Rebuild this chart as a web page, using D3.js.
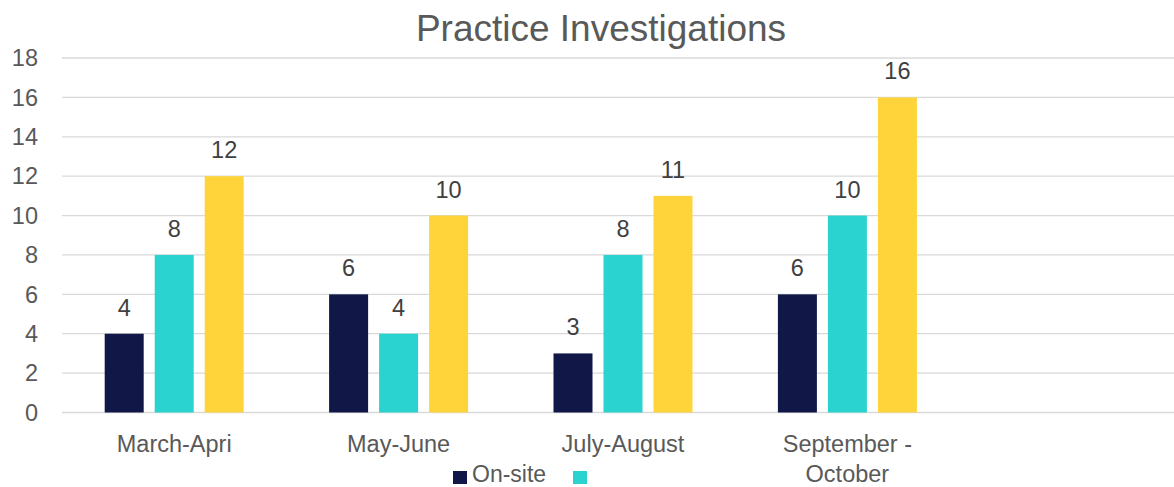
<!DOCTYPE html>
<html>
<head>
<meta charset="utf-8">
<script src="https://cdn.jsdelivr.net/npm/d3@7"></script>
<style>
  body { margin: 0; background: #fff; overflow: hidden; }
  svg text { font-family: "Liberation Sans", Arial, sans-serif; }
</style>
</head>
<body>
<div id="chart"></div>
<script>
(function () {
  'use strict';

  var categories = ['March-Apri', 'May-June', 'July-August', 'September - October', ''];
  var seriesNames = ['On-site', ''];
  var onsite = [4, 6, 3, 6];
  var teal = [8, 4, 8, 10];
  var yellow = [12, 10, 11, 16];
  var yTicks = [0, 2, 4, 6, 8, 10, 12, 14, 16, 18];
  var colors = ['#111848', '#2ad3d0', '#ffd43b'];

  var w = 1174, h = 487;
  var left = 62, right = 1184, top = 58, bottom = 412.5;

  var svg = d3.select('#chart').append('svg')
    .attr('width', w).attr('height', h);

  var x = d3.scaleBand().domain(categories).range([left, right]);
  var groupW = 139;
  var x1 = d3.scaleBand().domain([0, 1, 2])
    .range([0, groupW]).paddingInner(11 / 50).paddingOuter(0);
  var y = d3.scaleLinear().domain([0, 18]).range([bottom, top]);

  // gridlines
  svg.append('g').selectAll('line').data(yTicks).enter().append('line')
    .attr('x1', left).attr('x2', w)
    .attr('y1', function (d) { return y(d); })
    .attr('y2', function (d) { return y(d); })
    .attr('stroke', '#d9d9d9').attr('stroke-width', 1.3);

  // y labels
  svg.append('g').selectAll('text').data(yTicks).enter().append('text')
    .attr('x', 38).attr('y', function (d) { return y(d); })
    .attr('dy', '0.35em').attr('text-anchor', 'end')
    .attr('font-size', 23.5).attr('fill', '#595959')
    .text(function (d) { return d; });

  var rows = categories.slice(0, 4).map(function (c, i) {
    return { cat: c, vals: [onsite[i], teal[i], yellow[i]] };
  });

  var groups = svg.append('g').selectAll('g').data(rows).enter().append('g')
    .attr('transform', function (d) {
      return 'translate(' + (x(d.cat) + (x.bandwidth() - groupW) / 2) + ',0)';
    });

  groups.selectAll('rect').data(function (d) { return d.vals; }).enter().append('rect')
    .attr('x', function (d, i) { return x1(i); })
    .attr('width', x1.bandwidth())
    .attr('y', function (d) { return y(d); })
    .attr('height', function (d) { return y(0) - y(d); })
    .attr('fill', function (d, i) { return colors[i]; });

  groups.selectAll('text').data(function (d) { return d.vals; }).enter().append('text')
    .attr('x', function (d, i) { return x1(i) + x1.bandwidth() / 2; })
    .attr('y', function (d) { return y(d) - 18; })
    .attr('text-anchor', 'middle')
    .attr('font-size', 23.5).attr('fill', '#404040')
    .text(function (d) { return d; });

  // category labels
  var catLabels = svg.append('g').selectAll('text').data(categories).enter().append('text')
    .attr('x', function (d) { return x(d) + x.bandwidth() / 2; })
    .attr('y', 452)
    .attr('text-anchor', 'middle')
    .attr('font-size', 23.5).attr('fill', '#595959');
  catLabels.each(function (d) {
    var t = d3.select(this);
    var k = d.indexOf(' - ');
    var parts = k >= 0 ? [d.slice(0, k + 2), d.slice(k + 3)] : [d];
    parts.forEach(function (p, i) {
      t.append('tspan').attr('x', t.attr('x')).attr('dy', i === 0 ? 0 : 30).text(p);
    });
  });

  // title
  svg.append('text').attr('x', 601).attr('y', 41)
    .attr('text-anchor', 'middle').attr('font-size', 37).attr('fill', '#595959')
    .text('Practice Investigations');

  // legend
  var legendX = [453, 573];
  var legend = svg.append('g').selectAll('g').data(seriesNames).enter().append('g')
    .attr('transform', function (d, i) { return 'translate(' + legendX[i] + ',471)'; });
  legend.append('rect').attr('width', 14).attr('height', 13)
    .attr('fill', function (d, i) { return colors[i]; });
  legend.append('text').attr('x', 19).attr('y', 11)
    .attr('font-size', 23).attr('fill', '#595959')
    .text(function (d) { return d; });
}());
</script>
</body>
</html>
